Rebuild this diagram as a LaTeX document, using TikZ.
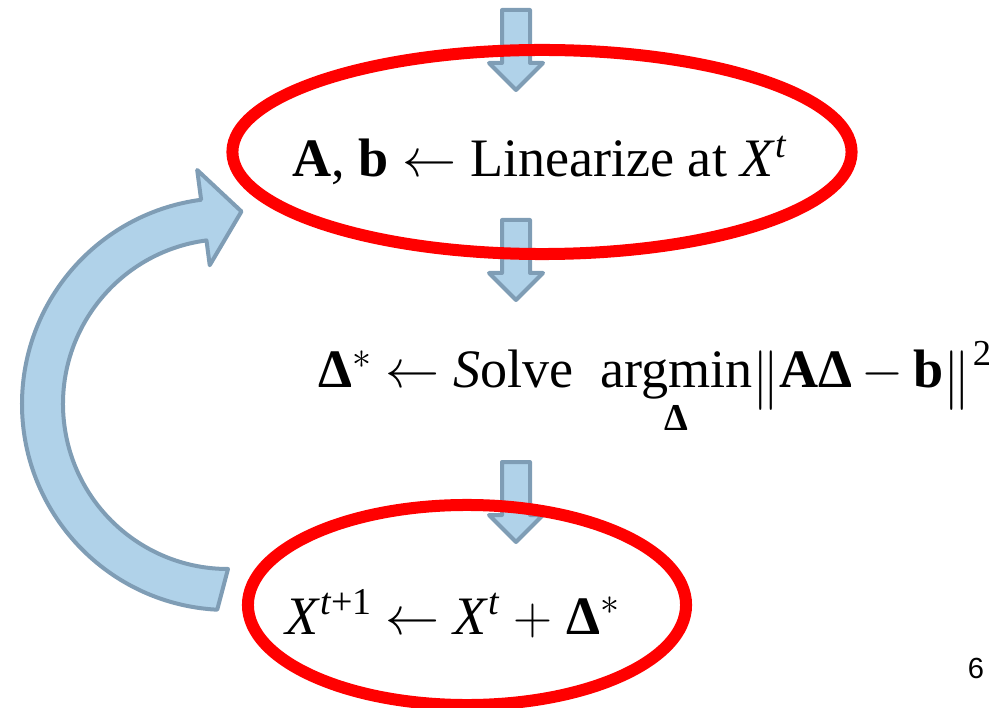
\documentclass[tikz,border=0pt]{standalone}
\usepackage{fix-cm}
\usepackage{amsmath}
\usepackage{fontspec}
\setmainfont{Liberation Serif}
\newfontfamily\numfont{Liberation Sans}
\usepackage{xcolor}
\usetikzlibrary{shapes.geometric}

\definecolor{arrowfill}{HTML}{B0D2E9}
\definecolor{arrowline}{HTML}{7F9DB5}

\newcommand{\normbar}{\raisebox{-0.13em}{\scalebox{1}[1.1]{$\|$}}}

\tikzset{
  loopring/.style={draw=red, line width=0.3cm, ellipse, inner sep=0pt},
  blockarrow/.style={fill=arrowfill, draw=arrowline, line width=0.1cm, line join=round},
  bigtext/.style={font=\fontsize{38.5}{45}\selectfont, inner sep=0pt}
}

\begin{document}
\begin{tikzpicture}[x=0.025cm, y=-0.025cm]
        \useasboundingbox (0,0) rectangle (1007,708);

        % Draw down arrows
        \foreach \ytop in {10,220,462} {
            \draw[blockarrow] (502,\ytop) -- (530,\ytop) -- (530,\ytop+53) -- (543,\ytop+53)
                -- (516,\ytop+80) -- (489,\ytop+53) -- (502,\ytop+53) -- cycle;
        }

        % Draw the loop arrow back to the top
        \begin{scope}[shift={(228,404)}]
            \draw[blockarrow] (93:206) arc[start angle=93, end angle=262.5, radius=206]
                -- (262.5:236) -- (274:193) -- (262.5:140) -- (262.5:165)
                arc[start angle=262.5, end angle=90, radius=165] -- cycle;
        \end{scope}

        % Draw the rings
        \node[loopring, minimum width=15.475cm, minimum height=5.1cm] (linring) at (542,152) {};
        \node[loopring, minimum width=10.95cm, minimum height=5cm] (updring) at (467,605) {};

        % Add formulas
        \node[bigtext, anchor=base] (lintext) at (540,177)
            {\textbf{A}, \textbf{b} $\leftarrow$ Linearize at \textit{X}\textsuperscript{\textit{t}}};
        \node[bigtext, anchor=base west] (solvetext) at (318,388)
            {\textbf{Δ}$^{*}$ $\leftarrow$ \textit{S}olve\hspace{0.5em}$\underset{\text{\raisebox{-0.2em}{\textbf{Δ}}}}{\text{argmin}}$\normbar\textbf{AΔ}\,$-$\,\textbf{b}\normbar\hspace{0.05em}\raisebox{0.42em}{\fontsize{26}{26}\selectfont 2}};
        \node[bigtext, anchor=base west] (updtext) at (285,634)
            {\textit{X}\textsuperscript{\textit{t}+1} $\leftarrow$ \textit{X}\textsuperscript{\textit{t}} $+$ \textbf{Δ}$^{*}$};

        % Page number
        \node[font=\numfont\fontsize{20.7}{24}\selectfont, inner sep=0pt, anchor=base] (pagenum) at (976,678) {6};
    \end{tikzpicture}
\end{document}
